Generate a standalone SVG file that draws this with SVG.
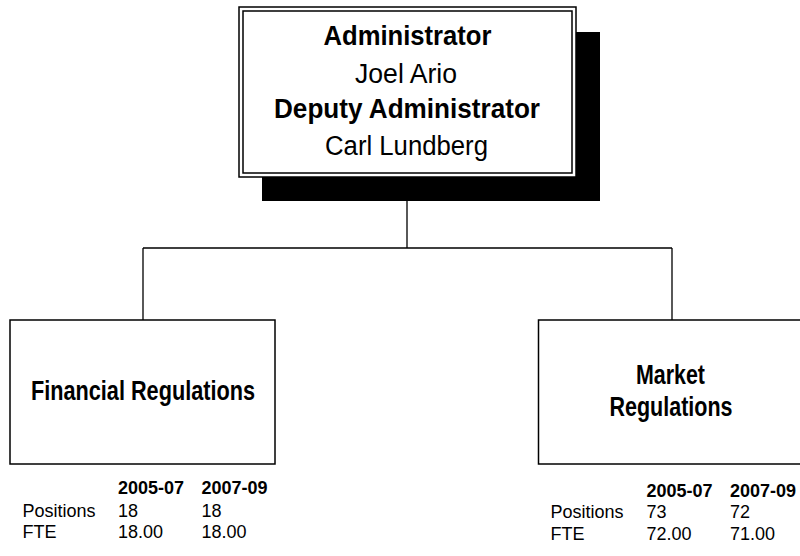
<svg xmlns="http://www.w3.org/2000/svg" width="800" height="556" viewBox="0 0 800 556">
<style>
.box{fill:#fff;stroke:#000;stroke-width:1.5}
.ln{fill:none;stroke:#000;stroke-width:1.3}
text{font-family:"Liberation Sans",Arial,sans-serif;fill:#000}
.t{font-size:27px;text-anchor:middle}
.b{font-weight:bold}
.s{font-size:18px}
</style>
<rect width="800" height="556" fill="#fff"/>
<g id="connectors">
<path class="ln" d="M407 201V248M143 248H672M143 248V320M672 248V320"/>
</g>
<g id="administrator">
<rect x="262" y="32" width="338" height="169" fill="#000"/>
<rect class="box" x="239" y="7" width="337" height="170"/>
<rect class="box" x="243" y="11" width="329" height="162"/>
<text class="t b" x="407.5" y="45" textLength="168" lengthAdjust="spacingAndGlyphs">Administrator</text>
<text class="t" x="406" y="83" textLength="102" lengthAdjust="spacingAndGlyphs">Joel Ario</text>
<text class="t b" x="407" y="118" textLength="266" lengthAdjust="spacingAndGlyphs">Deputy Administrator</text>
<text class="t" x="406.5" y="155" textLength="163" lengthAdjust="spacingAndGlyphs">Carl Lundberg</text>
</g>
<g id="financial">
<rect class="box" x="10" y="320" width="265" height="144"/>
<text class="t b" x="143" y="400" font-size="25" textLength="224" lengthAdjust="spacingAndGlyphs">Financial Regulations</text>
<text class="s b" x="118" y="494">2005-07</text>
<text class="s b" x="201.5" y="494">2007-09</text>
<text class="s" x="22.5" y="516.5">Positions</text>
<text class="s" x="118" y="516.5">18</text>
<text class="s" x="201.5" y="516.5">18</text>
<text class="s" x="22.5" y="538">FTE</text>
<text class="s" x="118" y="538">18.00</text>
<text class="s" x="201.5" y="538">18.00</text>
</g>
<g id="market">
<rect class="box" x="538.5" y="320" width="266" height="144"/>
<text class="t b" x="670.5" y="384" font-size="25" textLength="69" lengthAdjust="spacingAndGlyphs">Market</text>
<text class="t b" x="671" y="416" font-size="25" textLength="123" lengthAdjust="spacingAndGlyphs">Regulations</text>
<text class="s b" x="646.5" y="496.5">2005-07</text>
<text class="s b" x="730" y="496.5">2007-09</text>
<text class="s" x="550.5" y="518">Positions</text>
<text class="s" x="646.5" y="518">73</text>
<text class="s" x="730" y="518">72</text>
<text class="s" x="550.5" y="540">FTE</text>
<text class="s" x="646.5" y="540">72.00</text>
<text class="s" x="730" y="540">71.00</text>
</g>
</svg>
